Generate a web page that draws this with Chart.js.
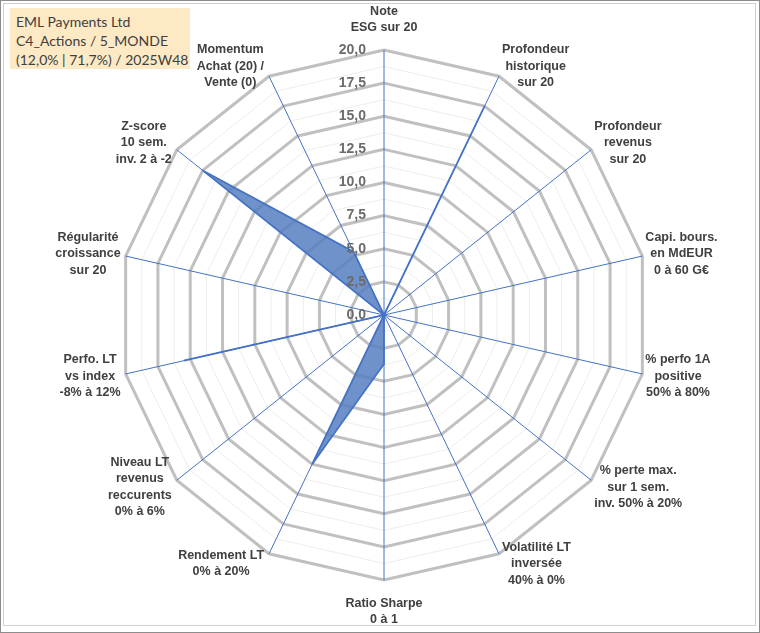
<!DOCTYPE html>
<html lang="fr">
<head>
    <meta charset="UTF-8">
    <title>EML Payments Ltd - radar</title>
    <script src="https://cdn.jsdelivr.net/npm/chart.js"></script>
    <style>
        body {
            margin: 0;
            background: #fff;
        }
        .chart-container {
            position: relative;
            width: 760px;
            height: 633px;
        }
        #titleBox {
            position: absolute;
            left: 10px;
            top: 8px;
            width: 168px;
            height: 53px;
            padding: 4px 6px;
            background: #fde9c4;
            font-family: Lato, "Open Sans", sans-serif;
            font-size: 14px;
            line-height: 19px;
            color: #404040;
            white-space: nowrap;
        }
    </style>
</head>
<body>

<div class="chart-container">
    <canvas id="myChart" width="760" height="633"></canvas>
    <div id="titleBox">EML Payments Ltd<br>C4_Actions / 5_MONDE<br>(12,0% | 71,7%) / 2025W48</div>
</div>

<script>
    // axes, clockwise from the top
    const categories = [
        ['Note', 'ESG sur 20'],
        ['Profondeur', 'historique', 'sur 20'],
        ['Profondeur', 'revenus', 'sur 20'],
        ['Capi. bours.', 'en MdEUR', '0 à 60 G€'],
        ['% perfo 1A', 'positive', '50% à 80%'],
        ['% perte max.', 'sur 1 sem.', 'inv. 50% à 20%'],
        ['Volatilité LT', 'inversée', '40% à 0%'],
        ['Ratio Sharpe', '0 à 1'],
        ['Rendement LT', '0% à 20%'],
        ['Niveau LT', 'revenus', 'reccurents', '0% à 6%'],
        ['Perfo. LT', 'vs index', '-8% à 12%'],
        ['Régularité', 'croissance', 'sur 20'],
        ['Z-score', '10 sem.', 'inv. 2 à -2'],
        ['Momentum', 'Achat (20) /', 'Vente (0)']
    ];
    const scores = [0, 17.5, 0, 0, 0, 0, 0, 3.7, 12.5, 0, 15.5, 0, 17.5, 5.3];
    const tickLabels = ['0,0', '2,5', '5,0', '7,5', '10,0', '12,5', '15,0', '17,5', '20,0'];
    const tickValues = [0, 2.5, 5, 7.5, 10, 12.5, 15, 17.5, 20];

    const labelFont = 'bold 12.5px "Liberation Sans", Arial, sans-serif';
    const lineH = 16.5;

    const labelsPlugin = {
        id: 'excelLabels',
        afterDatasetsDraw(chart) {
            const ctx = chart.ctx;
            const scale = chart.scales.r;
            const R = scale.drawingArea;

            // tick labels, left of the vertical axis
            ctx.save();
            ctx.font = 'bold 14px "Liberation Sans", Arial, sans-serif';
            ctx.fillStyle = '#6b6b6b';
            ctx.textAlign = 'right';
            ctx.textBaseline = 'middle';
            tickValues.forEach((v, i) => {
                const d = scale.getDistanceFromCenterForValue(v);
                ctx.fillText(tickLabels[i], scale.xCenter - 18, scale.yCenter - d);
            });
            ctx.restore();

            // axis titles
            ctx.save();
            ctx.font = labelFont;
            ctx.fillStyle = '#404040';
            ctx.textAlign = 'center';
            ctx.textBaseline = 'middle';
            const n = categories.length;
            categories.forEach((lines, i) => {
                const end = scale.getPointPosition(i, R);
                const a = i * 2 * Math.PI / n;
                const s = Math.sin(a), c = Math.cos(a);
                const w = Math.max(...lines.map(t => ctx.measureText(t).width));
                const h = lines.length * lineH;
                let cx, cy;
                if (Math.abs(s) < 0.01) {
                    cx = end.x;
                    cy = c > 0 ? end.y - 14 - h / 2 : end.y + 15 + h / 2;
                } else {
                    cx = s > 0 ? end.x + 3 + w / 2 : end.x - 5 - w / 2;
                    cy = end.y - c * 11;
                }
                lines.forEach((t, k) => {
                    ctx.fillText(t, cx, cy - h / 2 + lineH * (k + 0.5));
                });
            });
            ctx.restore();
        },
        afterDraw(chart) {
            const ctx = chart.ctx;
            ctx.save();
            ctx.lineWidth = 1;
            ctx.strokeStyle = '#8c8c8c';
            ctx.strokeRect(0.5, 0.5, 759, 632);
            ctx.strokeStyle = '#d0d0d0';
            ctx.strokeRect(3.5, 3.5, 752, 622);
            ctx.restore();
        }
    };

    const config = {
        type: 'radar',
        data: {
            labels: categories,
            datasets: [{
                data: scores,
                backgroundColor: 'rgba(85,127,192,0.85)',
                borderColor: '#4472c4',
                borderWidth: 1.75,
                pointRadius: 0,
                pointHoverRadius: 0,
                fill: true
            }]
        },
        options: {
            responsive: false,
            animation: false,
            layout: {
                padding: { left: 119, right: 111, top: 50, bottom: 53 }
            },
            scales: {
                r: {
                    min: 0,
                    max: 20,
                    ticks: {
                        stepSize: 1.25,
                        display: false,
                        showLabelBackdrop: false
                    },
                    pointLabels: { display: false },
                    grid: {
                        circular: false,
                        color: c => (c.tick && c.tick.value % 2.5 === 0) ? '#c0c0c0' : '#ededed',
                        lineWidth: c => (c.tick && c.tick.value % 2.5 === 0) ? 3 : 1
                    },
                    angleLines: {
                        color: '#4472c4',
                        lineWidth: 1
                    }
                }
            },
            plugins: {
                legend: { display: false },
                tooltip: { enabled: false }
            }
        },
        plugins: [labelsPlugin]
    };

    const ctx = document.getElementById('myChart').getContext('2d');
    new Chart(ctx, config);
</script>

</body>
</html>
